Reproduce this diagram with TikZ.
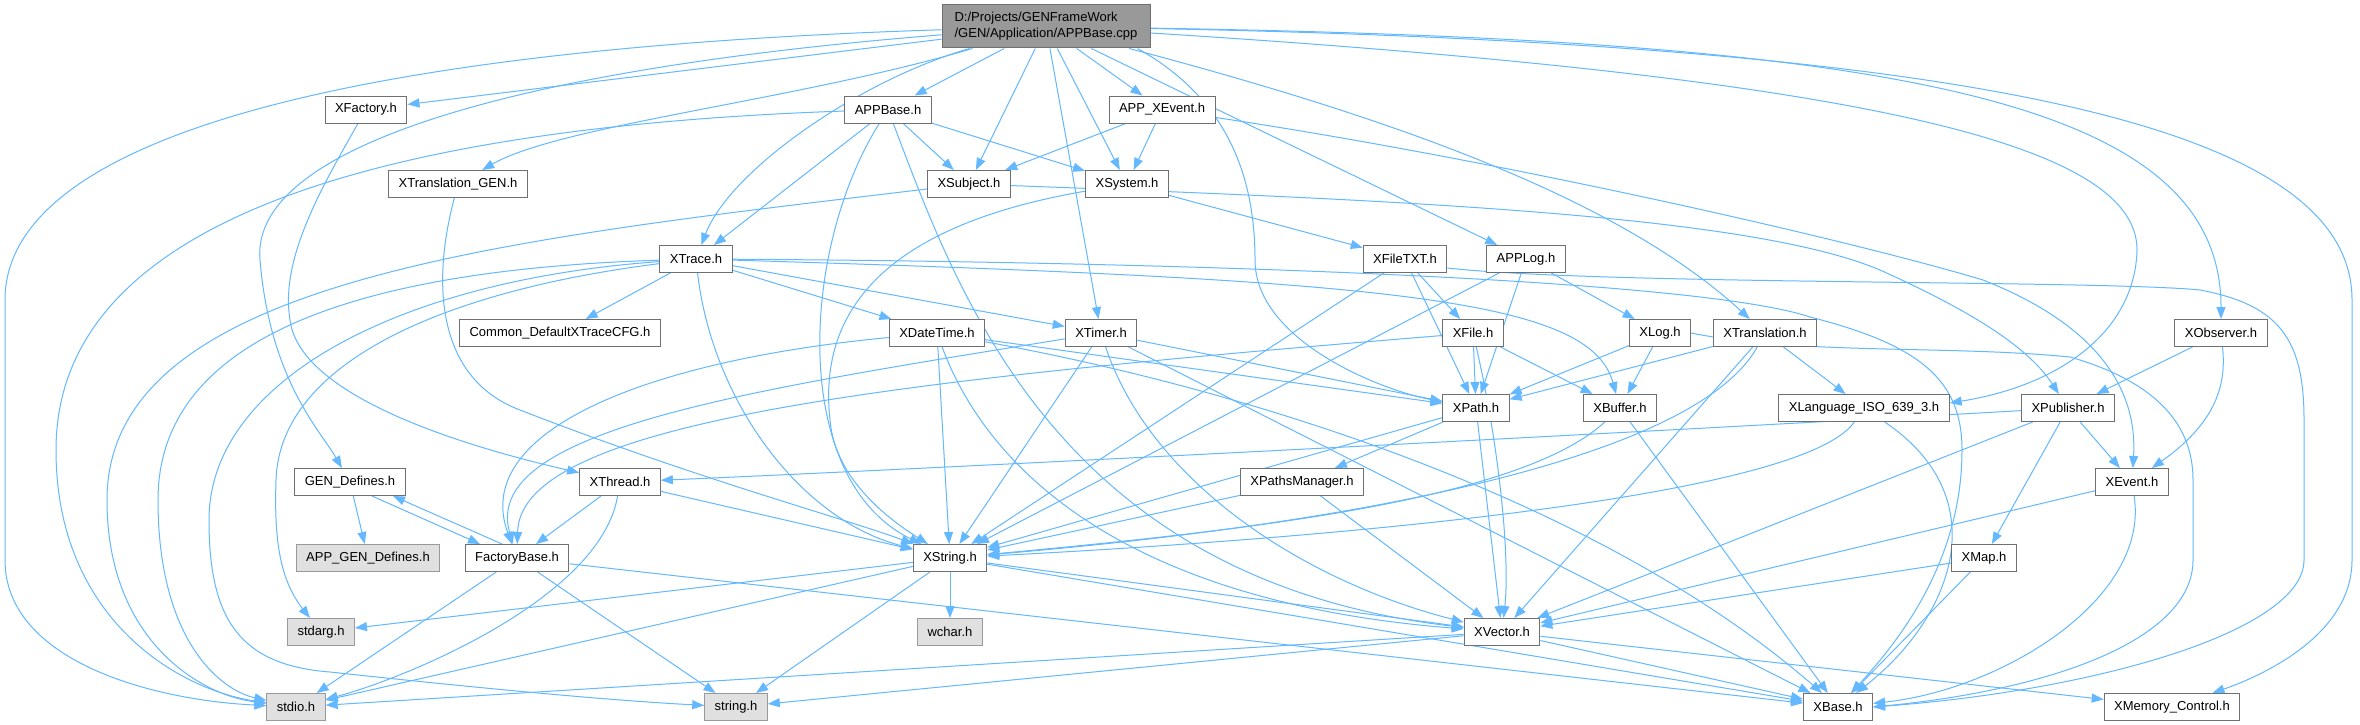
\documentclass[tikz,border=0pt]{standalone}
\usepackage{fontspec}
\setmainfont{Liberation Sans}
\usetikzlibrary{arrows.meta}
\definecolor{edgeblue}{HTML}{63B8FF}
\definecolor{gfour}{HTML}{707070}
\definecolor{gsix}{HTML}{999999}
\definecolor{leafgray}{HTML}{E0E0E0}
\pgfdeclarelayer{bg}
\pgfsetlayers{bg,main}
\tikzset{
  nd/.style={draw=gfour, fill=white, line width=1pt, minimum height=27pt, inner xsep=10pt, inner ysep=0pt, font=\fontsize{13}{15}\selectfont},
  leaf/.style={nd, draw=gsix, fill=leafgray},
  top/.style={nd, draw=gfour, fill=gsix, minimum height=43pt, minimum width=208pt, align=left, font=\fontsize{13}{16}\selectfont},
  e/.style={draw=edgeblue, line width=1pt, -{Triangle[length=12pt,width=9pt]}},
}
\begin{document}
\begin{tikzpicture}[x=1pt,y=-1pt]
\useasboundingbox (0,0) rectangle (2360,725);
% nodes
\node[top] (main) at (1046,26.5) {D:/Projects/GENFrameWork\\/GEN/Application/APPBase.cpp};
\node[nd] (XFactory) at (366,109.5) {XFactory.h};
\node[nd] (APPBase) at (888,109.5) {APPBase.h};
\node[nd] (APPXEvent) at (1162,109.5) {APP\_XEvent.h};
\node[nd] (XTranslationGEN) at (458,184) {XTranslation\_GEN.h};
\node[nd] (XSubject) at (969,184) {XSubject.h};
\node[nd] (XSystem) at (1127,184) {XSystem.h};
\node[nd] (XTrace) at (696,259) {XTrace.h};
\node[nd] (XFileTXT) at (1405,259) {XFileTXT.h};
\node[nd] (APPLog) at (1526,259) {APPLog.h};
\node[nd] (Common) at (560,333) {Common\_DefaultXTraceCFG.h};
\node[nd] (XDateTime) at (937,333) {XDateTime.h};
\node[nd] (XTimer) at (1101,333) {XTimer.h};
\node[nd] (XFile) at (1473,333) {XFile.h};
\node[nd] (XLog) at (1660,333) {XLog.h};
\node[nd] (XTranslation) at (1765,333) {XTranslation.h};
\node[nd] (XObserver) at (2221,333) {XObserver.h};
\node[nd] (XPath) at (1476,408) {XPath.h};
\node[nd] (XBuffer) at (1620,408) {XBuffer.h};
\node[nd] (XLanguage) at (1864,408) {XLanguage\_ISO\_639\_3.h};
\node[nd] (XPublisher) at (2068,408) {XPublisher.h};
\node[nd] (GENDefines) at (350,482) {GEN\_Defines.h};
\node[nd] (XThread) at (620,482) {XThread.h};
\node[nd] (XPathsManager) at (1302,482) {XPathsManager.h};
\node[nd] (XEvent) at (2132,482) {XEvent.h};
\node[leaf] (APPGENDefines) at (368,558) {APP\_GEN\_Defines.h};
\node[nd] (FactoryBase) at (517,558) {FactoryBase.h};
\node[nd] (XString) at (950,558) {XString.h};
\node[nd] (XMap) at (1984,558) {XMap.h};
\node[leaf] (stdarg) at (321,632) {stdarg.h};
\node[leaf] (wchar) at (950,632) {wchar.h};
\node[nd] (XVector) at (1502,632) {XVector.h};
\node[leaf] (stdio) at (296,707) {stdio.h};
\node[leaf] (string) at (736,707) {string.h};
\node[nd] (XBase) at (1838,707) {XBase.h};
\node[nd] (XMemoryControl) at (2172,707) {XMemory\_Control.h};
\begin{pgfonlayer}{bg}
\fill[white] (0,0) rectangle (2360,725);
% main
\draw[e] (main) -- (XFactory);
\draw[e] (main) -- (APPBase);
\draw[e] (main) -- (APPXEvent);
\draw[e] (main) .. controls (800,100) and (560,125) .. (XTranslationGEN);
\draw[e] (main) .. controls (860,80) and (730,170) .. (XTrace);
\draw[e] (main) -- (XSubject);
\draw[e] (main) -- (XSystem);
\draw[e] (main) -- (XTimer);
\draw[e] ([xshift=-13pt]main.south east) .. controls (1230,100) and (1255,180) .. (1255,260) .. controls (1255,340) and (1380,390) .. (XPath);
\draw[e] (main) -- (APPLog);
\draw[e] (main) .. controls (1400,120) and (1620,200) .. (XTranslation);
\draw[e] (main) .. controls (1900,80) and (2137,150) .. (2137,250) .. controls (2135,330) and (2062,385) .. ([yshift=5pt]XLanguage.east);
\draw[e] (main) .. controls (1900,40) and (2221,100) .. (XObserver);
\draw[e] (main) .. controls (2000,45) and (2352,130) .. (2352,300) -- (2352,560) .. controls (2352,640) and (2250,680) .. (XMemoryControl);
\draw[e] (main) .. controls (300,50) and (5,150) .. (5,300) -- (5,560) .. controls (5,660) and (150,700) .. (stdio);
\draw[e] (main) .. controls (500,70) and (250,150) .. (260,260) .. controls (270,380) and (320,430) .. (GENDefines);
% APPBase
\draw[e] (APPBase) -- (XSubject);
\draw[e] (APPBase) -- (XSystem);
\draw[e] (APPBase) -- (XTrace);
\draw[e] (APPBase) .. controls (800,250) and (790,480) .. (XString);
\draw[e] (APPBase) .. controls (960,300) and (1060,580) .. (XVector);
\draw[e] (APPBase) .. controls (300,130) and (56,250) .. (56,450) .. controls (56,620) and (180,690) .. (stdio);
% APP_XEvent
\draw[e] (APPXEvent) -- (XSubject);
\draw[e] (APPXEvent) -- (XSystem);
\draw[e] (APPXEvent) .. controls (1500,160) and (1850,240) .. (1983,280) .. controls (2110,330) and (2137,400) .. (XEvent);
% XSubject
\draw[e] (XSubject) .. controls (1400,200) and (1750,215) .. (1880,270) .. controls (1980,315) and (2030,350) .. (XPublisher);
\draw[e] (XSubject) .. controls (500,240) and (107,280) .. (107,500) .. controls (107,640) and (200,695) .. (stdio);
% XSystem
\draw[e] (XSystem) -- (XFileTXT);
\draw[e] (XSystem) .. controls (860,230) and (820,330) .. (830,420) .. controls (835,480) and (890,520) .. (XString);
% XTrace
\draw[e] (XTrace) -- (Common);
\draw[e] (XTrace) -- (XDateTime);
\draw[e] (XTrace) -- (XTimer);
\draw[e] (XTrace) .. controls (1400,280) and (1590,300) .. (XBuffer);
\draw[e] (XTrace) .. controls (1200,262) and (1700,280) .. (1810,317) .. controls (1920,345) and (1962,380) .. (1962,450) .. controls (1962,560) and (1900,640) .. (XBase);
\draw[e] (XTrace) .. controls (712,400) and (800,520) .. (XString);
\draw[e] (XTrace) .. controls (350,270) and (158,340) .. (158,500) .. controls (158,640) and (220,690) .. (stdio);
\draw[e] (XTrace) .. controls (400,280) and (209,380) .. (209,520) .. controls (209,620) and (240,665) .. (330,672) .. controls (450,685) and (600,700) .. (string);
\draw[e] (XTrace) .. controls (450,290) and (280,360) .. (276,480) .. controls (274,540) and (280,580) .. (stdarg);
% XFileTXT
\draw[e] (XFileTXT) -- (XFile);
\draw[e] (XFileTXT) -- (XPath);
\draw[e] (XFileTXT) -- (XString);
\draw[e] ([yshift=-9pt]XFileTXT.east) .. controls (1600,285) and (2100,280) .. (2200,290) .. controls (2280,305) and (2304,340) .. (2304,420) -- (2304,560) .. controls (2304,630) and (2100,690) .. (XBase.east);
% APPLog
\draw[e] (APPLog) -- (XLog);
\draw[e] (APPLog) -- (XPath);
\draw[e] (APPLog) -- (XString);
% XDateTime
\draw[e] (XDateTime) -- (XPath);
\draw[e] (XDateTime) -- (XString);
\draw[e] (XDateTime) .. controls (980,450) and (1100,600) .. (XVector);
\draw[e] (XDateTime) .. controls (1250,390) and (1600,500) .. (XBase);
\draw[e] (XDateTime) .. controls (650,360) and (470,430) .. (FactoryBase);
% XTimer
\draw[e] (XTimer) -- (XPath);
\draw[e] (XTimer) -- (XString);
\draw[e] (XTimer) .. controls (1150,480) and (1300,580) .. (XVector);
\draw[e] (XTimer) -- (XBase);
\draw[e] (XTimer) .. controls (750,390) and (480,430) .. (FactoryBase);
% XFile
\draw[e] (XFile) -- (XPath);
\draw[e] (XFile) -- (XBuffer);
\draw[e] (XFile) .. controls (1500,450) and (1510,560) .. (XVector);
\draw[e] (XFile) .. controls (900,380) and (520,420) .. (FactoryBase);
% XLog
\draw[e] (XLog) -- (XPath);
\draw[e] (XLog) -- (XBuffer);
\draw[e] (XLog.east) .. controls (1800,355) and (1950,345) .. (2070,357) .. controls (2150,380) and (2193,420) .. (2193,480) -- (2193,560) .. controls (2193,640) and (2050,690) .. (XBase.east);
% XTranslation
\draw[e] (XTranslation) -- (XPath);
\draw[e] (XTranslation) -- (XLanguage);
\draw[e] (XTranslation) .. controls (1700,450) and (1400,520) .. (XString);
\draw[e] (XTranslation) -- (XVector);
% XObserver
\draw[e] (XObserver) -- (XPublisher);
\draw[e] (XObserver) .. controls (2226,380) and (2220,420) .. (XEvent);
% XPath
\draw[e] (XPath) -- (XPathsManager);
\draw[e] (XPath) -- (XString);
\draw[e] (XPath) -- (XVector);
% XBuffer
\draw[e] (XBuffer) .. controls (1520,500) and (1250,530) .. (XString);
\draw[e] (XBuffer) -- (XBase);
% XLanguage
\draw[e] (XLanguage) .. controls (1800,500) and (1300,540) .. (XString);
\draw[e] (XLanguage) .. controls (2000,500) and (1950,620) .. (XBase);
% XPublisher
\draw[e] (XPublisher) .. controls (1500,440) and (900,470) .. (XThread);
\draw[e] (XPublisher) -- (XVector);
\draw[e] (XPublisher) -- (XMap);
\draw[e] (XPublisher) -- (XEvent);
% GEN_Defines
\draw[e] (GENDefines) -- (APPGENDefines);
\draw[e] ([xshift=22pt]GENDefines.south) -- ([xshift=-37pt]FactoryBase.north);
\draw[e] ([xshift=-15pt]FactoryBase.north) -- ([xshift=43pt]GENDefines.south);
% XThread
\draw[e] (XThread) -- (FactoryBase);
\draw[e] (XThread) .. controls (600,600) and (400,680) .. (stdio);
\draw[e] (XThread) -- (XString);
% XPathsManager
\draw[e] (XPathsManager) -- (XString);
\draw[e] (XPathsManager) -- (XVector);
% XEvent
\draw[e] (XEvent) -- (XVector);
\draw[e] (XEvent) .. controls (2150,600) and (2000,690) .. (XBase);
% FactoryBase
\draw[e] (FactoryBase) -- (stdio);
\draw[e] (FactoryBase) -- (string);
\draw[e] (FactoryBase) -- (XBase);
% XString
\draw[e] (XString) -- (stdarg);
\draw[e] (XString) -- (wchar);
\draw[e] (XString) -- (stdio);
\draw[e] (XString) -- (string);
\draw[e] (XString) -- (XVector);
\draw[e] (XString) -- (XBase);
% XMap
\draw[e] (XMap) -- (XVector);
\draw[e] (XMap) -- (XBase);
% XVector
\draw[e] (XVector) -- (stdio);
\draw[e] (XVector) -- (string);
\draw[e] (XVector) -- (XBase);
\draw[e] (XVector) -- (XMemoryControl);
% XFactory, XTranslation_GEN
\draw[e] (XFactory) .. controls (320,190) and (280,260) .. (290,320) .. controls (300,400) and (480,450) .. (XThread);
\draw[e] (XTranslationGEN) .. controls (430,290) and (440,380) .. (520,410) .. controls (700,480) and (850,520) .. (XString);
\end{pgfonlayer}
\end{tikzpicture}
\end{document}
